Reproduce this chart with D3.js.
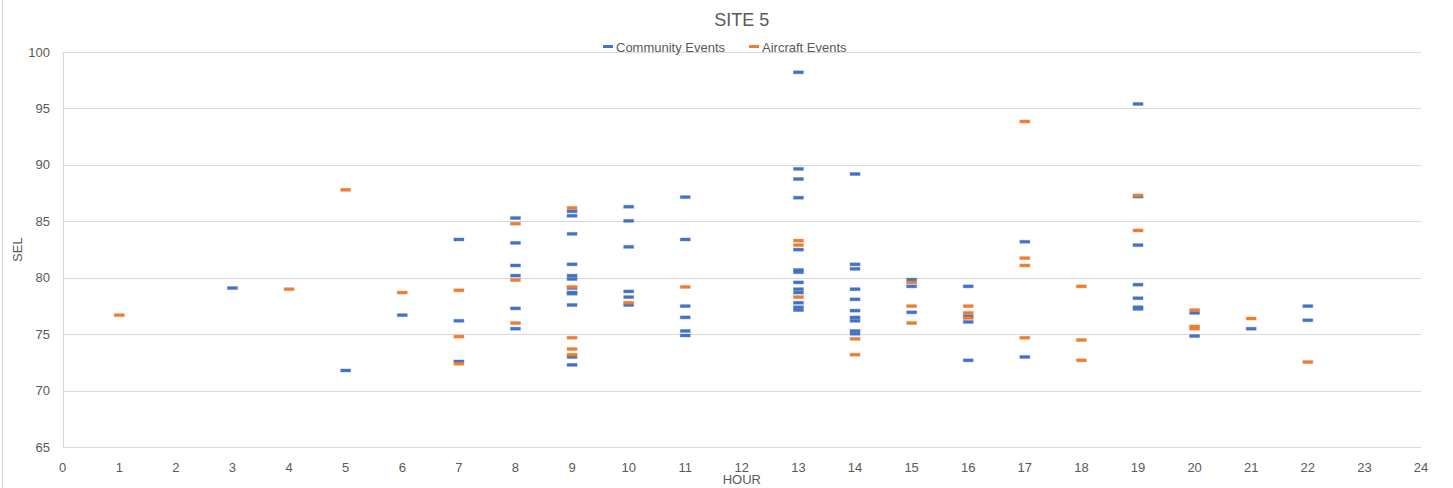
<!DOCTYPE html>
<html>
<head>
<meta charset="utf-8">
<script src="https://d3js.org/d3.v7.min.js"></script>
<style>
  body { margin: 0; background: #fff; }
  text { font-family: "Liberation Sans", Arial, sans-serif; fill: #595959; }
</style>
</head>
<body>
<div id="vis"></div>
<script>
// hour / SEL pairs
const communityHours = [3, 5, 6, 7, 7, 7,
  8, 8, 8, 8, 8, 8,
  9, 9, 9, 9, 9, 9, 9, 9, 9, 9, 9, 9,
  10, 10, 10, 10, 10, 10,
  11, 11, 11, 11, 11, 11,
  13, 13, 13, 13, 13, 13, 13, 13, 13, 13, 13, 13, 13,
  14, 14, 14, 14, 14, 14, 14, 14, 14, 14,
  15, 15, 15, 16, 16, 16, 16, 17, 17,
  19, 19, 19, 19, 19, 19, 19,
  20, 20, 21, 22, 22];
const communitySel = [79.1, 71.8, 76.7, 83.4, 76.2, 72.6,
  85.3, 83.1, 81.1, 80.2, 77.3, 75.5,
  85.9, 85.5, 83.9, 81.2, 80.2, 79.9, 79.1, 78.7, 78.6, 77.6, 73.0, 72.3,
  86.3, 85.05, 82.75, 78.8, 78.3, 77.6,
  87.15, 83.4, 77.5, 76.5, 75.3, 74.9,
  98.2, 89.65, 88.75, 87.1, 82.5, 80.7, 80.5, 79.6, 79.0, 78.7, 77.8, 77.4, 77.15,
  89.2, 81.2, 80.8, 79.0, 78.1, 77.1, 76.5, 76.2, 75.3, 75.05,
  79.85, 79.25, 76.95, 79.25, 76.6, 76.1, 72.7, 83.2, 73.0,
  95.4, 87.2, 82.9, 79.4, 78.2, 77.4, 77.25,
  76.9, 74.85, 75.5, 77.5, 76.25];

const aircraftHours = [1, 4, 5, 6, 7, 7, 7,
  8, 8, 8,
  9, 9, 9, 9, 9,
  10, 11,
  13, 13, 13,
  14, 14,
  15, 15, 15,
  16, 16, 16,
  17, 17, 17, 17,
  18, 18, 18,
  19, 19,
  20, 20, 20, 21, 22];
const aircraftSel = [76.7, 79.0, 87.8, 78.7, 78.9, 74.8, 72.4,
  84.8, 79.8, 76.0,
  86.2, 79.2, 74.7, 73.7, 73.2,
  77.8, 79.2,
  83.3, 82.9, 78.3,
  74.6, 73.2,
  79.6, 77.5, 76.0,
  77.5, 76.9, 76.45,
  93.85, 81.75, 81.1, 74.7,
  79.25, 74.5, 72.7,
  87.3, 84.2,
  77.15, 75.7, 75.5, 76.4, 72.55];

const seriesNames = ['Community Events', 'Aircraft Events'];
const seriesColors = ['#4472C4', '#ED7D31'];
const xTicks = d3.range(0, 25);
const yTicks = [65, 70, 75, 80, 85, 90, 95, 100];

const width = 1453, height = 488;
const margin = {left: 62.7, right: 32, top: 52, bottom: 40.7};

const svg = d3.select('#vis').append('svg')
  .attr('width', width).attr('height', height);

// chart area border (left side visible)
svg.append('line')
  .attr('x1', 2.5).attr('x2', 2.5).attr('y1', 0).attr('y2', height)
  .attr('stroke', '#d9d9d9');

const x = d3.scaleLinear().domain([0, 24]).range([margin.left, width - margin.right]);
const y = d3.scaleLinear().domain([65, 100]).range([height - margin.bottom, margin.top]);

// gridlines
svg.append('g')
  .selectAll('line')
  .data(yTicks)
  .join('line')
  .attr('x1', x(0)).attr('x2', x(24))
  .attr('y1', d => Math.round(y(d)) + 0.5).attr('y2', d => Math.round(y(d)) + 0.5)
  .attr('stroke', '#d9d9d9');

// left axis line
svg.append('line')
  .attr('x1', Math.round(x(0)) + 0.5).attr('x2', Math.round(x(0)) + 0.5)
  .attr('y1', y(100)).attr('y2', y(65))
  .attr('stroke', '#d9d9d9');

// tick labels
svg.append('g')
  .selectAll('text')
  .data(yTicks)
  .join('text')
  .attr('x', 50).attr('y', d => y(d))
  .attr('dy', '0.35em')
  .attr('text-anchor', 'end')
  .style('font-size', '13px')
  .text(d => d);

svg.append('g')
  .selectAll('text')
  .data(xTicks)
  .join('text')
  .attr('x', d => x(d)).attr('y', 467)
  .attr('dy', '0.35em')
  .attr('text-anchor', 'middle')
  .style('font-size', '13px')
  .text(d => d);

// titles
svg.append('text')
  .attr('x', (x(0) + x(24)) / 2).attr('y', 20)
  .attr('dy', '0.35em')
  .attr('text-anchor', 'middle')
  .style('font-size', '18px')
  .text('SITE 5');

svg.append('text')
  .attr('x', (x(0) + x(24)) / 2).attr('y', 479)
  .attr('dy', '0.35em')
  .attr('text-anchor', 'middle')
  .style('font-size', '13px')
  .text('HOUR');

svg.append('text')
  .attr('transform', `translate(17,${(y(65) + y(100)) / 2}) rotate(-90)`)
  .attr('dy', '0.35em')
  .attr('text-anchor', 'middle')
  .style('font-size', '13px')
  .text('SEL');

// markers
const series = [
  communityHours.map((h, i) => ({h, v: communitySel[i]})),
  aircraftHours.map((h, i) => ({h, v: aircraftSel[i]}))
];

series.forEach((pts, s) => {
  svg.append('g')
    .selectAll('rect')
    .data(pts)
    .join('rect')
    .attr('x', d => x(d.h) - 5)
    .attr('y', d => y(d.v) - 1.5)
    .attr('width', 10).attr('height', 3)
    .attr('fill', seriesColors[s])
    .attr('stroke', seriesColors[s])
    .attr('stroke-opacity', 0.35)
    .attr('stroke-width', 1);
});

// legend
const legendX = [603, 749];
const legend = svg.append('g');
seriesNames.forEach((name, i) => {
  legend.append('rect')
    .attr('x', legendX[i]).attr('y', 45)
    .attr('width', 10).attr('height', 3)
    .attr('fill', seriesColors[i]);
  legend.append('text')
    .attr('x', legendX[i] + 13).attr('y', 47)
    .attr('dy', '0.35em')
    .style('font-size', '13px')
    .text(name);
});
</script>
</body>
</html>
